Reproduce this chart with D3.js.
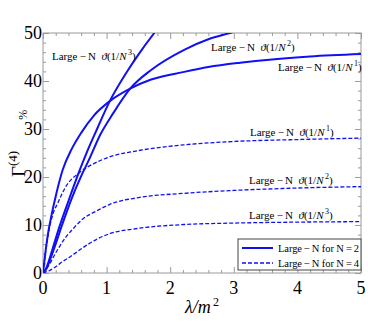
<!DOCTYPE html>
<html>
<head>
<meta charset="utf-8">
<script src="https://cdn.jsdelivr.net/npm/d3@7"></script>
<style>
  body { margin: 0; background: #fff; }
</style>
</head>
<body>
<div id="chart"></div>
<script>
// Data (lambda/m^2 vs Gamma^(4) %)
// N = 2 (solid)
var n2o1X = [0, 0.04, 0.08, 0.13, 0.2, 0.31, 0.45, 0.6, 0.8, 1.05, 1.37, 1.7, 2.22, 2.6, 3.1, 3.6, 4.2, 5];
var n2o1Y = [0, 4.5, 8.3, 11.8, 16, 21.5, 25.8, 29.2, 32.8, 35.8, 38.4, 40.3, 41.9, 42.9, 43.8, 44.5, 45.1, 45.6];
var n2o2X = [0, 0.05, 0.15, 0.3, 0.45, 0.6, 0.72, 0.9, 1.1, 1.37, 1.7, 2.22, 2.6, 2.94, 3.2];
var n2o2Y = [0, 0.8, 4.2, 10, 15.5, 20.2, 23.5, 28.8, 33.2, 38.4, 42.3, 46.5, 48.7, 50, 51];
var n2o3X = [0, 0.05, 0.15, 0.25, 0.4, 0.55, 0.7, 0.85, 1.05, 1.3, 1.5, 1.75, 1.9];
var n2o3Y = [0, 1, 5, 9.3, 15, 20.5, 25.5, 30, 35.8, 41.5, 45.5, 50, 52.5];
// N = 4 (dashed)
var n4o1X = [0, 0.04, 0.08, 0.1, 0.15, 0.24, 0.35, 0.58, 0.8, 1.05, 1.5, 2.22, 3, 4, 5];
var n4o1Y = [0, 4.3, 7.8, 9.3, 12, 14.8, 17.8, 21, 22.8, 24.2, 25.5, 26.7, 27.4, 27.8, 28.1];
var n4o2X = [0, 0.1, 0.2, 0.35, 0.5, 0.63, 0.84, 1.05, 1.5, 2.22, 3, 4, 5];
var n4o2Y = [0, 1.8, 4.2, 7.3, 9.6, 11.3, 12.9, 14.3, 15.7, 16.6, 17.2, 17.7, 18.0];
var n4o3X = [0, 0.1, 0.2, 0.3, 0.45, 0.63, 0.87, 1.05, 1.5, 2.22, 3, 4, 5];
var n4o3Y = [0, 0.5, 1.3, 2.3, 3.6, 5.3, 7.2, 8.2, 9.3, 10.1, 10.4, 10.6, 10.7];

var xTicks = [0, 1, 2, 3, 4, 5];
var yTicks = [0, 10, 20, 30, 40, 50];

var width = 368, height = 327;
var plotL = 43, plotR = 361, plotT = 33, plotB = 273;
var blue = "#1010f5";
var serif = "'Liberation Serif', 'Times New Roman', 'DejaVu Serif', serif";

var svg = d3.select("#chart").append("svg")
  .attr("width", width)
  .attr("height", height)
  .attr("font-family", serif)
  .style("font-family", serif);

var xScale = d3.scaleLinear().domain([0, 5]).range([plotL, plotR]);
var yScale = d3.scaleLinear().domain([0, 50]).range([plotB, plotT]);

// frame ticks, pointing inward
function tickGroup(axis, tx, ty) {
  var g = svg.append("g").attr("transform", "translate(" + tx + "," + ty + ")").call(axis);
  g.select(".domain").remove();
  g.selectAll("line").attr("stroke", "#9a9a9a");
  return g;
}
var xMinor = d3.range(0, 5.01, 0.2).filter(function(v) { return Math.abs(v - Math.round(v)) > 1e-6; });
var yMinor = d3.range(0, 50.01, 2).filter(function(v) { return v % 10 !== 0; });

tickGroup(d3.axisBottom(xScale).tickValues(xTicks).tickSize(-6).tickFormat(""), 0, plotB);
tickGroup(d3.axisBottom(xScale).tickValues(xMinor).tickSize(-3).tickFormat(""), 0, plotB);
tickGroup(d3.axisTop(xScale).tickValues(xTicks).tickSize(-6).tickFormat(""), 0, plotT);
tickGroup(d3.axisTop(xScale).tickValues(xMinor).tickSize(-3).tickFormat(""), 0, plotT);
tickGroup(d3.axisLeft(yScale).tickValues(yTicks).tickSize(-6).tickFormat(""), plotL, 0);
tickGroup(d3.axisLeft(yScale).tickValues(yMinor).tickSize(-3).tickFormat(""), plotL, 0);
tickGroup(d3.axisRight(yScale).tickValues(yTicks).tickSize(-6).tickFormat(""), plotR, 0);
tickGroup(d3.axisRight(yScale).tickValues(yMinor).tickSize(-3).tickFormat(""), plotR, 0);

svg.append("rect")
  .attr("x", plotL).attr("y", plotT)
  .attr("width", plotR - plotL).attr("height", plotB - plotT)
  .attr("fill", "none").attr("stroke", "#9a9a9a").attr("stroke-width", 1);

// tick labels
svg.append("g").selectAll("text").data(xTicks).enter().append("text")
  .attr("x", function(d) { return xScale(d); })
  .attr("y", plotB + 21)
  .attr("text-anchor", "middle")
  .attr("font-size", 18)
  .text(function(d) { return d; });
svg.append("g").selectAll("text").data(yTicks).enter().append("text")
  .attr("x", plotL - 1)
  .attr("y", function(d) { return yScale(d) + 6; })
  .attr("text-anchor", "end")
  .attr("font-size", 18)
  .text(function(d) { return d; });

// axis titles
var xt = svg.append("text")
  .attr("x", (plotL + plotR) / 2)
  .attr("y", 313)
  .attr("text-anchor", "middle")
  .attr("font-size", 18)
  .attr("font-style", "italic");
xt.append("tspan").text("\u03bb/m");
xt.append("tspan").attr("font-size", 12).attr("dy", -7).attr("font-style", "normal").text("\u20092");

// y title runs upward from just above the "20" label
var yt = svg.append("text")
  .attr("transform", "translate(25,177)rotate(-90)")
  .attr("text-anchor", "start")
  .attr("font-size", 19);
yt.append("tspan").text("\u0393");
yt.append("tspan").attr("font-size", 13).attr("dy", -8).text("(4)");
yt.append("tspan").attr("font-size", 12).attr("dy", 10).attr("dx", 31).text("%");

// curves
svg.append("clipPath").attr("id", "plotClip")
  .append("rect").attr("x", plotL).attr("y", plotT)
  .attr("width", plotR - plotL).attr("height", plotB - plotT);

var line = d3.line()
  .x(function(d) { return xScale(d[0]); })
  .y(function(d) { return yScale(d[1]); })
  .curve(d3.curveMonotoneX);

function series(xs, ys) {
  return xs.map(function(x, i) { return [x, ys[i]]; });
}

var plot = svg.append("g").attr("clip-path", "url(#plotClip)");
[[n4o1X, n4o1Y], [n4o2X, n4o2Y], [n4o3X, n4o3Y]].forEach(function(s) {
  plot.append("path")
    .attr("d", line(series(s[0], s[1])))
    .attr("fill", "none")
    .attr("stroke", blue)
    .attr("stroke-width", 1.3)
    .attr("stroke-dasharray", "4,2");
});
[[n2o1X, n2o1Y], [n2o2X, n2o2Y], [n2o3X, n2o3Y]].forEach(function(s) {
  plot.append("path")
    .attr("d", line(series(s[0], s[1])))
    .attr("fill", "none")
    .attr("stroke", blue)
    .attr("stroke-width", 2);
});

// curve labels
function orderLabel(x, y, p) {
  var t = svg.append("text").attr("x", x).attr("y", y).attr("font-size", 11);
  t.append("tspan").text("Large\u2009\u2212\u2009N\u2002");
  t.append("tspan").attr("font-style", "italic").text("\u03d1");
  t.append("tspan").text("(1/");
  t.append("tspan").attr("font-style", "italic").text("N");
  t.append("tspan").attr("font-size", 8).attr("dy", -5).text("\u2009" + p);
  t.append("tspan").attr("dy", 5).text(")");
}
orderLabel(52, 60, 3);
orderLabel(211, 51, 2);
orderLabel(278, 71, 1);
orderLabel(250, 136, 1);
orderLabel(249, 184, 2);
orderLabel(249, 219, 3);

// legend
svg.append("rect")
  .attr("x", 238).attr("y", 239)
  .attr("width", 123).attr("height", 31)
  .attr("fill", "#fff").attr("stroke", "#444").attr("stroke-width", 1);
var legendItems = [{ label: "Large\u2009\u2212\u2009N for N\u2009=\u20092", dash: null, w: 2, y: 248 },
                   { label: "Large\u2009\u2212\u2009N for N\u2009=\u20094", dash: "4,2", w: 1.3, y: 263 }];
legendItems.forEach(function(it) {
  svg.append("text")
    .attr("x", 278).attr("y", it.y + 4)
    .attr("font-size", 10.5)
    .attr("textLength", 81)
    .attr("lengthAdjust", "spacing")
    .text(it.label);
  svg.append("line")
    .attr("x1", 242).attr("x2", 273)
    .attr("y1", it.y).attr("y2", it.y)
    .attr("stroke", blue).attr("stroke-width", it.w)
    .attr("stroke-dasharray", it.dash);
});
</script>
</body>
</html>
